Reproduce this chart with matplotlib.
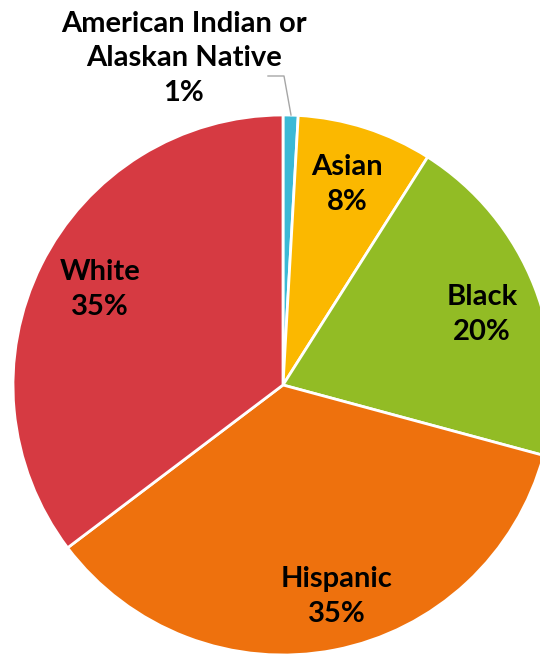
import numpy as np
import matplotlib.pyplot as plt

groups = ['American Indian or\nAlaskan Native', 'Asian', 'Black', 'Hispanic', 'White']
shares = [0.9, 8.1, 20.2, 35.5, 35.3]
shown = ['1%', '8%', '20%', '35%', '35%']
colores = ['#3BB9D6', '#FBB800', '#92BC25', '#EE710D', '#D63A42']

plt.rcParams['font.family'] = ['Lato', 'DejaVu Sans']

fig = plt.figure(figsize=(5.4, 6.54), dpi=100)
ax = fig.add_axes([0, 0, 1, 1])

# pie in pixel-like coordinates, y up
cx, cy, r = 283, 654 - 385, 270
ax.pie(shares, colors=colores, startangle=90, counterclock=False,
       center=(cx, cy), radius=r,
       wedgeprops=dict(edgecolor='white', linewidth=2))
ax.set_xlim(0, 540)
ax.set_ylim(0, 654)
ax.set_aspect('equal')
ax.axis('off')

# label positions (pixel x, pixel y of the name line)
pos = [(184, 21), (347, 166), (482, 296), (337, 578), (100, 271)]
for g, s, (x, y) in zip(groups, shown, pos):
    txt = g + '\n' + s
    nlin = txt.count('\n') + 1
    yc = y + (nlin - 1) * 37.5 / 2
    ax.text(x, 654 - yc, txt, ha='center', va='center', fontsize=21,
            fontweight='bold', linespacing=1.42, color='black')

# leader line for the small slice
ax.plot([268, 284, 291], [654 - 76, 654 - 76, 654 - 115], color='#A6A6A6', lw=1)

fig.savefig('out.png', dpi=100)
